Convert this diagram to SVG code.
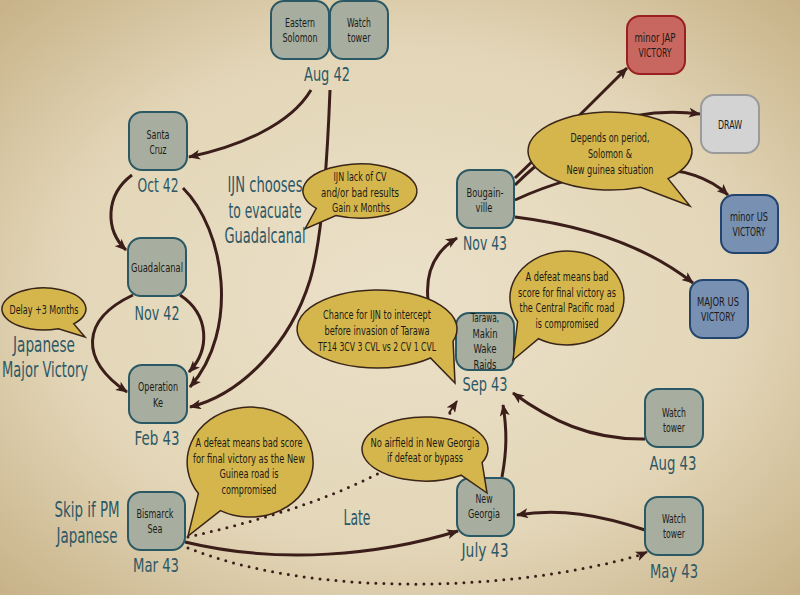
<svg xmlns="http://www.w3.org/2000/svg" width="800" height="595" viewBox="0 0 800 595">
<defs>
<radialGradient id="bg" cx="50%" cy="50%" r="70%">
<stop offset="0" stop-color="#ebe1c9"/>
<stop offset="0.6" stop-color="#e3d6b8"/>
<stop offset="1" stop-color="#c8b389"/>
</radialGradient>
<marker id="ah" viewBox="0 0 12 10" refX="11" refY="5" markerWidth="12" markerHeight="10" markerUnits="userSpaceOnUse" orient="auto">
<path d="M0,0 L12,5 L0,10 L3,5 Z" fill="#3b1e1a"/>
</marker>
<style>
.n{fill:#a8ae9f;stroke:#2a5864;stroke-width:2}
.jap{fill:#c8675f;stroke:#9a1f22;stroke-width:2}
.draw{fill:#d3d3d3;stroke:#9a9a9a;stroke-width:2}
.us{fill:#7890b2;stroke:#23446e;stroke-width:2}
text{font-family:"DejaVu Sans Condensed","DejaVu Sans",sans-serif;font-stretch:condensed;text-anchor:middle}
.t{font-size:12.5px;fill:#1c1a17}
.d{font-size:20px;fill:#2c5866}
.big{font-size:21px;fill:#2c5866}
.c{fill:#d4b64d;stroke:#3a2518;stroke-width:1.5}
.e{fill:none;stroke:#3b1e1a;stroke-width:3;marker-end:url(#ah)}
.dot{fill:none;stroke:#3b1e1a;stroke-width:3;stroke-dasharray:0 8;stroke-linecap:round}
</style>
</defs>
<rect width="800" height="595" fill="url(#bg)"/>

<g id="connectors">
<path class="e" d="M311,90 C290,125 240,146 189,157"/>
<path class="e" d="M330,90 C327,170 322,240 310,280 C290,345 240,395 190,407"/>
<path class="e" d="M183,188 C225,230 240,330 190,387"/>
<path class="e" d="M132,175 C105,195 105,230 126,250"/>
<path class="e" d="M133,295 C80,320 80,360 127,392"/>
<path class="e" d="M180,295 C210,315 210,350 189,372"/>
<path class="e" d="M428,300 C425,270 437,250 457,238"/>
<path class="e" d="M515,178 C555,140 595,100 627,68"/>
<path class="e" d="M515,185 C570,130 630,105 700,114"/>
<path class="e" d="M515,200 C580,170 680,150 728,195"/>
<path class="e" d="M515,217 C580,225 645,245 693,283"/>
<path class="e" d="M645,439 C590,440 550,420 513,393"/>
<path class="e" d="M502,477 C507,450 507,430 503,405"/>
<path class="e" d="M645,530 C600,515 560,508 517,515"/>
<path class="e" d="M185,542 C280,565 380,555 458,531"/>
<path class="dot" d="M188,537 C300,512 420,470 450,413"/>
<path class="e" d="M449,413 L457,401" style="stroke-width:2"/>
<path class="dot" d="M188,548 C320,600 520,590 640,555"/>
<path class="e" d="M640,555 L647,552" style="stroke-width:2"/>
</g>

<g id="eastern-solomon"><rect class="n" x="271" y="1" width="58" height="58" rx="13"/><text class="t" x="300" y="27" textLength="30" lengthAdjust="spacingAndGlyphs">Eastern</text><text class="t" x="300" y="42" textLength="35" lengthAdjust="spacingAndGlyphs">Solomon</text></g>
<g id="watch-tower-aug42"><rect class="n" x="330" y="1" width="58" height="58" rx="13"/><text class="t" x="359" y="27" textLength="24" lengthAdjust="spacingAndGlyphs">Watch</text><text class="t" x="359" y="42" textLength="23" lengthAdjust="spacingAndGlyphs">tower</text></g>
<text class="d" x="327" y="81" textLength="46" lengthAdjust="spacingAndGlyphs">Aug 42</text>

<g id="santa-cruz"><rect class="n" x="129" y="112" width="58" height="58" rx="13"/><text class="t" x="158" y="139" textLength="23" lengthAdjust="spacingAndGlyphs">Santa</text><text class="t" x="158" y="154" textLength="17" lengthAdjust="spacingAndGlyphs">Cruz</text></g>
<text class="d" x="158" y="192" textLength="41" lengthAdjust="spacingAndGlyphs">Oct 42</text>

<g id="guadalcanal"><rect class="n" x="128" y="238" width="58" height="58" rx="13"/><text class="t" x="157" y="272" textLength="52" lengthAdjust="spacingAndGlyphs">Guadalcanal</text></g>
<text class="d" x="157" y="320" textLength="45" lengthAdjust="spacingAndGlyphs">Nov 42</text>

<g id="operation-ke"><rect class="n" x="129" y="365" width="58" height="58" rx="13"/><text class="t" x="158" y="391" textLength="40" lengthAdjust="spacingAndGlyphs">Operation</text><text class="t" x="158" y="407" textLength="10" lengthAdjust="spacingAndGlyphs">Ke</text></g>
<text class="d" x="157" y="445" textLength="45" lengthAdjust="spacingAndGlyphs">Feb 43</text>

<g id="bismarck-sea"><rect class="n" x="128" y="492" width="57" height="58" rx="13"/><text class="t" x="155" y="518" textLength="37" lengthAdjust="spacingAndGlyphs">Bismarck</text><text class="t" x="155" y="533" textLength="15" lengthAdjust="spacingAndGlyphs">Sea</text></g>
<text class="d" x="156" y="572" textLength="46" lengthAdjust="spacingAndGlyphs">Mar 43</text>

<g id="new-georgia"><rect class="n" x="457" y="478" width="57" height="58" rx="13"/><text class="t" x="484" y="503" textLength="17" lengthAdjust="spacingAndGlyphs">New</text><text class="t" x="484" y="518" textLength="32" lengthAdjust="spacingAndGlyphs">Georgia</text></g>
<text class="d" x="485" y="557" textLength="47" lengthAdjust="spacingAndGlyphs">July 43</text>

<g id="watch-tower-aug43"><rect class="n" x="645" y="389" width="58" height="58" rx="13"/><text class="t" x="674" y="417" textLength="24" lengthAdjust="spacingAndGlyphs">Watch</text><text class="t" x="674" y="432" textLength="22" lengthAdjust="spacingAndGlyphs">tower</text></g>
<text class="d" x="673" y="470" textLength="47" lengthAdjust="spacingAndGlyphs">Aug 43</text>

<g id="watch-tower-may43"><rect class="n" x="645" y="497" width="58" height="58" rx="13"/><text class="t" x="674" y="523" textLength="24" lengthAdjust="spacingAndGlyphs">Watch</text><text class="t" x="674" y="538" textLength="22" lengthAdjust="spacingAndGlyphs">tower</text></g>
<text class="d" x="674" y="578" textLength="48" lengthAdjust="spacingAndGlyphs">May 43</text>

<g id="tarawa"><rect class="n" x="456" y="313" width="58" height="57" rx="13"/><text class="t" x="485" y="322" textLength="28" lengthAdjust="spacingAndGlyphs">Tarawa,</text><text class="t" x="485" y="338" textLength="25" lengthAdjust="spacingAndGlyphs">Makin</text><text class="t" x="485" y="353" textLength="23" lengthAdjust="spacingAndGlyphs">Wake</text><text class="t" x="485" y="369" textLength="23" lengthAdjust="spacingAndGlyphs">Raids</text></g>
<text class="d" x="485" y="391" textLength="45" lengthAdjust="spacingAndGlyphs">Sep 43</text>

<g id="bougainville"><rect class="n" x="457" y="170" width="57" height="58" rx="13"/><text class="t" x="485" y="197" textLength="37" lengthAdjust="spacingAndGlyphs">Bougain-</text><text class="t" x="484" y="212" textLength="17" lengthAdjust="spacingAndGlyphs">ville</text></g>
<text class="d" x="485" y="250" textLength="44" lengthAdjust="spacingAndGlyphs">Nov 43</text>

<g id="minor-jap-victory"><rect class="jap" x="627" y="16" width="58" height="58" rx="13"/><text class="t" x="655" y="42" textLength="41" lengthAdjust="spacingAndGlyphs">minor JAP</text><text class="t" x="655" y="57" textLength="33" lengthAdjust="spacingAndGlyphs">VICTORY</text></g>
<g id="draw"><rect class="draw" x="701" y="95" width="58" height="58" rx="13"/><text class="t" x="730" y="129" textLength="24" lengthAdjust="spacingAndGlyphs">DRAW</text></g>
<g id="minor-us-victory"><rect class="us" x="721" y="195" width="57" height="58" rx="13"/><text class="t" x="749" y="221" textLength="38" lengthAdjust="spacingAndGlyphs">minor US</text><text class="t" x="749" y="236" textLength="33" lengthAdjust="spacingAndGlyphs">VICTORY</text></g>
<g id="major-us-victory"><rect class="us" x="690" y="280" width="58" height="58" rx="13"/><text class="t" x="718" y="306" textLength="42" lengthAdjust="spacingAndGlyphs">MAJOR US</text><text class="t" x="718" y="321" textLength="34" lengthAdjust="spacingAndGlyphs">VICTORY</text></g>

<g id="ijn-chooses"><text class="big" x="265" y="192" textLength="75" lengthAdjust="spacingAndGlyphs">IJN chooses</text><text class="big" x="265" y="218" textLength="73" lengthAdjust="spacingAndGlyphs">to evacuate</text><text class="big" x="265" y="243" textLength="81" lengthAdjust="spacingAndGlyphs">Guadalcanal</text></g>
<g id="japanese-major-victory"><text class="big" x="44" y="352" textLength="62" lengthAdjust="spacingAndGlyphs">Japanese</text><text class="big" x="45" y="377" textLength="86" lengthAdjust="spacingAndGlyphs">Major Victory</text></g>
<g id="skip-if-pm"><text class="big" x="87" y="517" textLength="65" lengthAdjust="spacingAndGlyphs">Skip if PM</text><text class="big" x="87" y="543" textLength="61" lengthAdjust="spacingAndGlyphs">Japanese</text></g>
<text class="big" x="357" y="525" textLength="27" lengthAdjust="spacingAndGlyphs">Late</text>

<g id="callout-ijn-lack"><path class="c" d="M316.3,208.4 A57 27 0 1 1 335.9,215.5 L305,229 Z"/><text class="t" x="360" y="181" textLength="53" lengthAdjust="spacingAndGlyphs">IJN lack of CV</text><text class="t" x="360" y="197" textLength="78" lengthAdjust="spacingAndGlyphs">and/or bad results</text><text class="t" x="361" y="212" textLength="58" lengthAdjust="spacingAndGlyphs">Gain x Months</text></g>
<g id="callout-delay"><path class="c" d="M58.4,328.7 A42 21 0 1 1 73.7,323.8 L85,337 Z"/><text class="t" x="44" y="314" textLength="69" lengthAdjust="spacingAndGlyphs">Delay +3 Months</text></g>
<g id="callout-chance"><path class="c" d="M430.5,358 A80 39 0 1 1 453.1,341.1 L455,383 Z"/><text class="t" x="377" y="319" textLength="108" lengthAdjust="spacingAndGlyphs">Chance for IJN to intercept</text><text class="t" x="377" y="335" textLength="105" lengthAdjust="spacingAndGlyphs">before invasion of Tarawa</text><text class="t" x="377" y="351" textLength="118" lengthAdjust="spacingAndGlyphs">TF14 3CV 3 CVL vs 2 CV 1 CVL</text></g>
<g id="callout-central-pacific"><path class="c" d="M517.6,321.5 A57 47 0 1 1 538.5,338.7 L513,360 Z"/><text class="t" x="567" y="281" textLength="83" lengthAdjust="spacingAndGlyphs">A defeat means bad</text><text class="t" x="567" y="297" textLength="98" lengthAdjust="spacingAndGlyphs">score for final victory as</text><text class="t" x="567" y="312" textLength="95" lengthAdjust="spacingAndGlyphs">the Central Pacific road</text><text class="t" x="567" y="328" textLength="63" lengthAdjust="spacingAndGlyphs">is compromised</text></g>
<g id="callout-depends"><path class="c" d="M640.7,187.2 A82 39 0 1 1 668,178.6 L690,206 Z"/><text class="t" x="610" y="142" textLength="79" lengthAdjust="spacingAndGlyphs">Depends on period,</text><text class="t" x="610" y="158" textLength="44" lengthAdjust="spacingAndGlyphs">Solomon &amp;</text><text class="t" x="610" y="174" textLength="87" lengthAdjust="spacingAndGlyphs">New guinea situation</text></g>
<g id="callout-no-airfield"><path class="c" d="M461.1,475.2 A63 32 0 1 1 482.1,462.5 L487,493 Z"/><text class="t" x="425" y="447" textLength="109" lengthAdjust="spacingAndGlyphs">No airfield in New Georgia</text><text class="t" x="425" y="462" textLength="76" lengthAdjust="spacingAndGlyphs">if defeat or bypass</text></g>
<g id="callout-new-guinea"><path class="c" d="M198.4,493.5 A63 55 0 1 1 220.4,510.6 L188,536 Z"/><text class="t" x="249" y="447" textLength="107" lengthAdjust="spacingAndGlyphs">A defeat means bad score</text><text class="t" x="249" y="463" textLength="112" lengthAdjust="spacingAndGlyphs">for final victory as the New</text><text class="t" x="249" y="478" textLength="59" lengthAdjust="spacingAndGlyphs">Guinea road is</text><text class="t" x="249" y="494" textLength="55" lengthAdjust="spacingAndGlyphs">compromised</text></g>
</svg>
